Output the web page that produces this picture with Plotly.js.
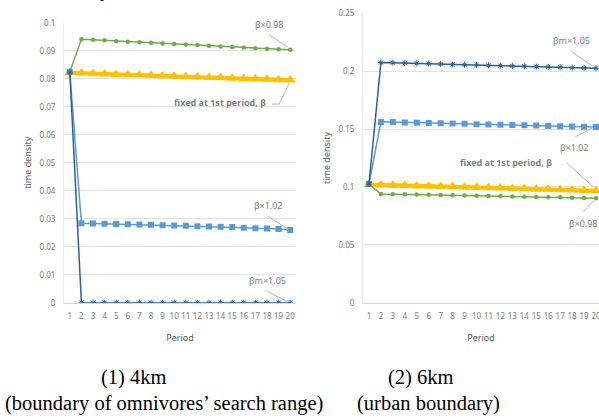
<!DOCTYPE html>
<html>
<head>
<meta charset="utf-8">
<script src="https://cdn.plot.ly/plotly-3.0.1.min.js"></script>
<style>html,body{margin:0;padding:0;background:#fff;}#chart{width:599px;height:419px;}</style>
</head>
<body>
<div id="chart"></div>
<script>
// ---- data ----
const periods = [1,2,3,4,5,6,7,8,9,10,11,12,13,14,15,16,17,18,19,20];
const periodLabels = ['1','2','3','4','5','6','7','8','9','10','11','12','13','14','15','16','17','18','19','20'];

// (1) 4km
const fixed4 = [0.0821,0.0820,0.0818,0.0817,0.0815,0.0814,0.0813,0.0811,0.0810,0.0809,0.0807,0.0806,0.0804,0.0803,0.0802,0.0800,0.0799,0.0798,0.0796,0.0795];
const b098_4 = [0.0825,0.0941,0.0939,0.0937,0.0934,0.0932,0.0930,0.0928,0.0926,0.0924,0.0922,0.0920,0.0918,0.0915,0.0913,0.0911,0.0909,0.0907,0.0905,0.0903];
const b102_4 = [0.0825,0.0284,0.0283,0.0282,0.0281,0.0280,0.0279,0.0278,0.0277,0.0276,0.0275,0.0273,0.0272,0.0271,0.0270,0.0268,0.0266,0.0265,0.0263,0.0260];
const bm105_4 = [0.0823,0,0,0,0,0,0,0,0,0,0,0,0,0,0,0,0,0,0,0];

// (2) 6km
const fixed6 = [0.1020,0.1017,0.1014,0.1012,0.1009,0.1006,0.1003,0.1001,0.0998,0.0995,0.0992,0.0990,0.0987,0.0984,0.0981,0.0979,0.0976,0.0973,0.0970,0.0968];
const b098_6 = [0.1025,0.0939,0.0937,0.0936,0.0934,0.0932,0.0930,0.0928,0.0926,0.0924,0.0922,0.0920,0.0918,0.0916,0.0914,0.0912,0.0910,0.0907,0.0905,0.0902];
const b102_6 = [0.1025,0.1562,0.1560,0.1557,0.1555,0.1552,0.1550,0.1547,0.1545,0.1542,0.1540,0.1537,0.1535,0.1532,0.1530,0.1527,0.1525,0.1522,0.1520,0.1518];
const bm105_6 = [0.1025,0.2075,0.2073,0.2070,0.2068,0.2065,0.2062,0.2059,0.2056,0.2054,0.2051,0.2048,0.2045,0.2043,0.2040,0.2037,0.2034,0.2031,0.2028,0.2025];

const yTicks4 = [0,0.01,0.02,0.03,0.04,0.05,0.06,0.07,0.08,0.09,0.1];
const yTickText4 = ['0','0.01','0.02','0.03','0.04','0.05','0.06','0.07','0.08','0.09','0.1'];
const yTicks6 = [0,0.05,0.1,0.15,0.2,0.25];
const yTickText6 = ['0','0.05','0.1','0.15','0.2','0.25'];

const seriesNames = ['fixed at 1st period, β','β×0.98','β×1.02','βm×1.05'];
const captions = ['(1) 4km','(boundary of omnivores’ search range)','(2) 6km','(urban boundary)'];

// ---- styles ----
const C_YEL = '#FFC000', C_GRN = '#70AD47', C_LB = '#5B9BD5', C_DB = '#2C5F99';
const FONT = 'Noto Sans, DejaVu Sans, sans-serif';
const SERIF = 'Liberation Serif, Times New Roman, serif';
const GREY = '#7f7f7f';

function mk(y, idx, xa, ya) {
  const styles = [
    {line:{color:C_YEL,width:4}, marker:{symbol:'triangle-up',size:10,color:C_YEL}},
    {line:{color:C_GRN,width:1.5}, marker:{symbol:'circle',size:4.5,color:C_GRN}},
    {line:{color:C_LB,width:1.5}, marker:{symbol:'square',size:6,color:C_LB}},
    {line:{color:C_DB,width:1.5}, marker:{symbol:'asterisk-open',size:5,color:C_DB,line:{color:C_DB,width:1}}}
  ];
  return Object.assign({x:periods, y:y, type:'scatter', mode:'lines+markers', name:seriesNames[idx],
    xaxis:xa, yaxis:ya, showlegend:false, hoverinfo:'skip'}, styles[idx]);
}

const data = [
  mk(fixed4,0,'x','y'), mk(b098_4,1,'x','y'), mk(b102_4,2,'x','y'), mk(bm105_4,3,'x','y'),
  mk(fixed6,0,'x2','y2'), mk(b098_6,1,'x2','y2'), mk(b102_6,2,'x2','y2'), mk(bm105_6,3,'x2','y2')
];

const W = 599, H = 419;
const px = v => v / W, py = v => 1 - v / H;

const tickFont = {family:FONT, size:8, color:'#7a7a7a'};
const titleFont = {family:FONT, size:9, color:'#595959'};

function xAxis(domain, range) {
  return {domain:domain, range:range, tickmode:'array', tickvals:periods, ticktext:periodLabels,
    showgrid:false, zeroline:false, showline:true, linecolor:'#d9d9d9', linewidth:1,
    ticks:'', tickfont:tickFont, ticklen:0, ticklabelstandoff:6, ticklabeloverflow:'allow',
    fixedrange:true, title:{text:'Period', font:titleFont, standoff:14}};
}
function yAxis(domain, range, tv, tt, anchor) {
  return {domain:domain, range:range, tickmode:'array', tickvals:tv, ticktext:tt,
    showgrid:true, gridcolor:'#e3e3e3', gridwidth:1, zeroline:false,
    showline:true, linecolor:'#ececec', linewidth:1, ticks:'', tickfont:tickFont,
    ticklabelstandoff:6, anchor:anchor, fixedrange:true,
    title:{text:'time density', font:titleFont, standoff:6}};
}

function lbl(xa, ya, xv, yv, text, xs, ys, anchor, bold) {
  return {xref:xa, yref:ya, x:xv, y:yv, text: bold ? '<b>'+text+'</b>' : text,
    showarrow:false, xanchor:anchor||'center', yanchor:'middle', xshift:xs, yshift:ys,
    font:{family:FONT, size:9, color:GREY}};
}
function leader(xa, ya, xv, yv, x0, y0, x1, y1) {
  return {type:'line', xref:xa, yref:ya, xsizemode:'pixel', ysizemode:'pixel',
    xanchor:xv, yanchor:yv, x0:x0, y0:y0, x1:x1, y1:y1,
    line:{color:'#a6a6a6', width:0.8}};
}
function cap(x, y, text) {
  return {xref:'paper', yref:'paper', x:px(x), y:py(y), text:text, showarrow:false,
    xanchor:'center', yanchor:'middle', font:{family:SERIF, size:20.5, color:'#000'}};
}

const n = periods.length - 1;
const annotations = [
  lbl('x','y', periods[n], b098_4[n], seriesNames[1], -21, 25),
  lbl('x','y', periods[n], fixed4[n], seriesNames[0], -22, -22.6, 'right', true),
  lbl('x','y', periods[n], b102_4[n], seriesNames[2], -22, 24),
  lbl('x','y', periods[n], bm105_4[n], seriesNames[3], -23, 22.7),
  lbl('x2','y2', periods[n], bm105_6[n], seriesNames[3], -25, 27.3),
  lbl('x2','y2', periods[n], b102_6[n], seriesNames[2], -21.7, -20.7),
  lbl('x2','y2', periods[n], fixed6[n], seriesNames[0], -42, 28, 'right', true),
  lbl('x2','y2', periods[n], b098_6[n], seriesNames[1], -29, -25, 'left'),
  cap(133.5, 377, captions[0]),
  cap(164, 403, captions[1]),
  cap(421, 377, captions[2]),
  cap(428, 403, captions[3]),
  // descender of a heading cut off above the picture
  {xref:'paper', yref:'paper', x:px(105), y:1, yshift:-3, text:'<b>y</b>', showarrow:false,
    xanchor:'center', yanchor:'bottom', font:{family:SERIF, size:20, color:'#000'}}
];

const shapes = [
  leader('x','y', periods[n], b098_4[n], -21, 15, -3, 3),
  leader('x','y', periods[n], fixed4[n], -18, -24, -11, -24),
  leader('x','y', periods[n], fixed4[n], -11, -24, -1, -3),
  leader('x','y', periods[n], b102_4[n], -22, 13.5, -3, 1.2),
  leader('x','y', periods[n], bm105_4[n], -22, 11, -3, 1),
  leader('x2','y2', periods[n], bm105_6[n], -24, 16.6, -2.7, 1.6),
  leader('x2','y2', periods[n], b102_6[n], -20.7, -9.7, -4, -1.3),
  leader('x2','y2', periods[n], fixed6[n], -29, 27.6, -2.7, 3.6),
  leader('x2','y2', periods[n], b098_6[n], -12.7, -13.4, -1, -1)
];

const layout = {
  width:W, height:H, margin:{l:0,r:0,t:0,b:0}, paper_bgcolor:'#fff', plot_bgcolor:'#fff',
  showlegend:false,
  xaxis: Object.assign(xAxis([px(64), px(296)], [0.5, 20.5]), {anchor:'y'}),
  yaxis: yAxis([py(302.7), py(22.7)], [0, 0.1], yTicks4, yTickText4, 'x'),
  xaxis2: Object.assign(xAxis([px(363), 1], [0.5, 20.25]), {anchor:'y2'}),
  yaxis2: yAxis([py(302.7), py(13.3)], [0, 0.25], yTicks6, yTickText6, 'x2'),
  annotations: annotations, shapes: shapes
};

Plotly.newPlot('chart', data, layout, {staticPlot:true, displayModeBar:false});
</script>
</body>
</html>
